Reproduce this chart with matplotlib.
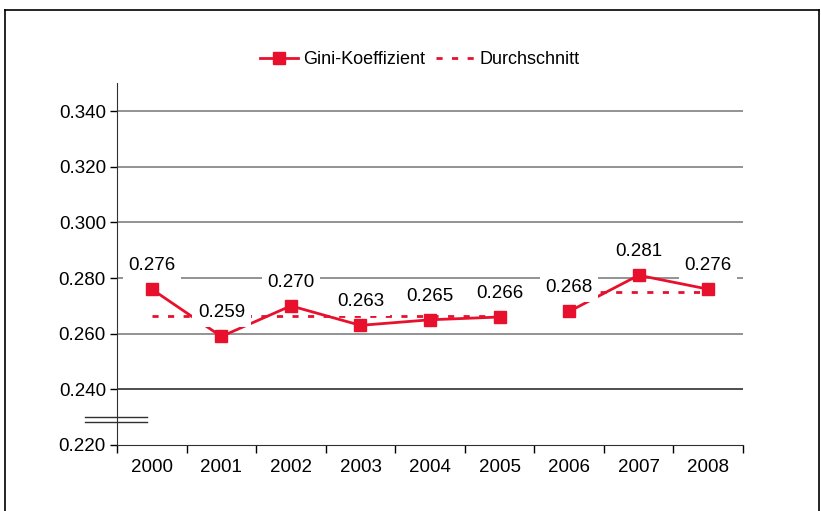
import matplotlib.pyplot as plt
import numpy as np
from matplotlib.lines import Line2D

plt.rcParams['font.family'] = ['Liberation Sans', 'DejaVu Sans']

# Data
years = ["2000", "2001", "2002", "2003", "2004", "2005", "2006", "2007", "2008"]
gini = [0.276, 0.259, 0.270, 0.263, 0.265, 0.266, 0.268, 0.281, 0.276]
average = [0.2665, 0.2665, 0.2665, 0.2665, 0.2665, 0.2665, 0.275, 0.275, 0.275]
label_texts = ["0.276", "0.259", "0.270", "0.263", "0.265", "0.266", "0.268", "0.281", "0.276"]
break_after = 6  # series is interrupted between 2005 and 2006
y_ticks = [0.220, 0.240, 0.260, 0.280, 0.300, 0.320, 0.340]

RED = "#E8112D"
FS = 13.5
DASH = (0, (2.2, 3.4))

fig = plt.figure(figsize=(8.21, 5.11), dpi=100)
ax = fig.add_axes([117 / 821, 1 - 445 / 511, (743 - 117) / 821, (445 - 83) / 511])

x = np.arange(len(years))

# gridlines
for yt in y_ticks[1:]:
    ax.axhline(yt, color="#808080" if yt > 0.24 else "#303030", linewidth=1.2, zorder=1)

segments = [slice(0, break_after), slice(break_after, len(years))]
for seg in segments:
    ax.plot(x[seg], np.array(average)[seg], color=RED, linewidth=2,
            linestyle=DASH, zorder=2)
    ax.plot(x[seg], np.array(gini)[seg], color=RED, linewidth=2, zorder=3)

# data labels with white background
for xi, yi, txt in zip(x, gini, label_texts):
    ax.annotate(txt, xy=(xi, yi), xytext=(0, 17), textcoords="offset points",
                ha="center", va="center", fontsize=FS,
                bbox=dict(boxstyle="square,pad=0.3", fc="white", ec="none"),
                zorder=4)

ax.plot(x, gini, linestyle="none", marker="s", markersize=8.5, color=RED, zorder=5)

ax.set_xlim(-0.5, len(years) - 0.5)
ax.set_ylim(0.22, 0.3501)
ax.set_yticks(y_ticks)
ax.set_yticklabels([f"{v:.3f}" for v in y_ticks], fontsize=FS)
ax.set_xticks(x)
ax.set_xticklabels(years, fontsize=FS)
ax.set_xticks(np.arange(-0.5, len(years)), minor=True)
ax.tick_params(axis="x", which="major", length=0, pad=10)
ax.tick_params(axis="x", which="minor", length=6, width=1, direction="out")
ax.tick_params(axis="y", length=5, width=1, direction="out", pad=3)

for side in ["top", "right"]:
    ax.spines[side].set_visible(False)
ax.spines["left"].set_color("#303030")
ax.spines["bottom"].set_color("#303030")

# axis break marks
for yb in [0.2283, 0.2302]:
    ax.plot([-0.96, -0.07], [yb, yb], color="#303030", linewidth=1,
            clip_on=False, zorder=6)

# legend
handles = [
    Line2D([], [], color=RED, linewidth=2, marker="s", markersize=8.5),
    Line2D([], [], color=RED, linewidth=2, linestyle=DASH),
]
fig.legend(handles, ["Gini-Koeffizient", "Durchschnitt"], loc="center",
           bbox_to_anchor=(420 / 821, 1 - 60 / 511), ncol=2, frameon=False,
           fontsize=13, handlelength=2.1, columnspacing=0.6, handletextpad=0.3)

# outer frame
fig.add_artist(Line2D([5 / 821, 819 / 821], [1 - 10 / 511, 1 - 10 / 511],
                      color="black", linewidth=1.2, transform=fig.transFigure))
fig.add_artist(Line2D([5 / 821, 5 / 821], [0, 1 - 10 / 511],
                      color="black", linewidth=1.2, transform=fig.transFigure))
fig.add_artist(Line2D([819 / 821, 819 / 821], [0, 1 - 10 / 511],
                      color="black", linewidth=1.2, transform=fig.transFigure))

fig.savefig("out.png", dpi=100)
